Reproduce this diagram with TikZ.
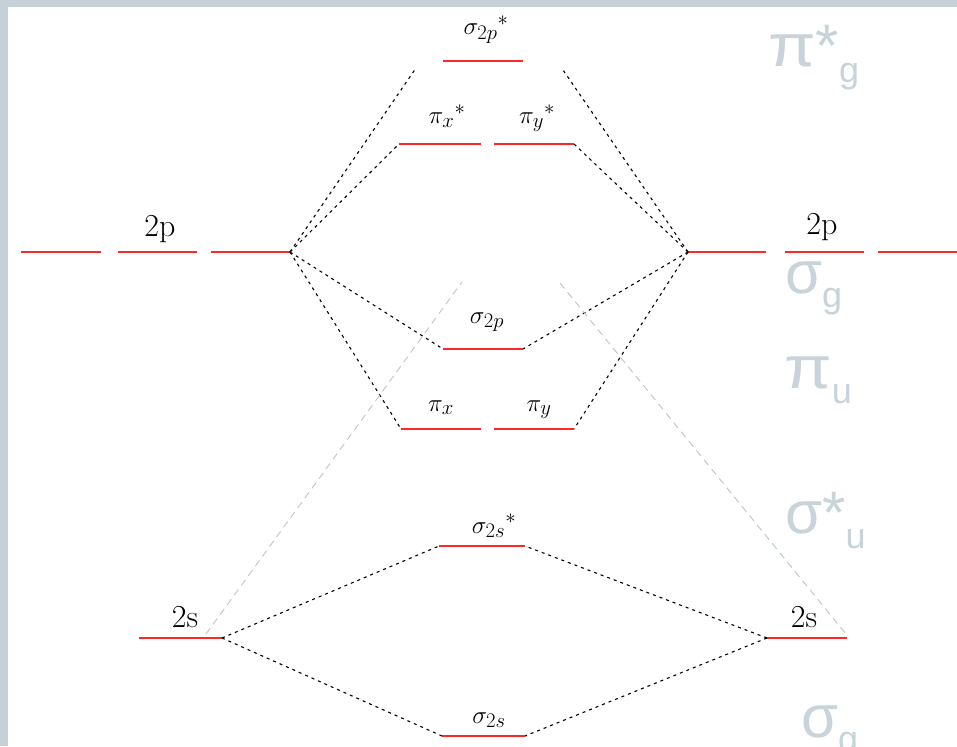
\documentclass[tikz,border=0pt]{standalone}
\usepackage{amsmath,amssymb}
\usepackage{fontspec}
\usepackage{tikz}
\usetikzlibrary{positioning}
\newfontfamily\greyfont{Liberation Sans}
\definecolor{framegray}{RGB}{197,208,215}
\definecolor{labgray}{RGB}{200,211,218}
\definecolor{guidegray}{RGB}{184,198,207}
\definecolor{levelred}{RGB}{255,40,40}
\newcommand{\widepi}{\scalebox{1.15}[1]{π}}

\begin{document}
\begin{tikzpicture}[x=1pt,y=-1pt,
  level/.style={levelred,line width=2pt},
  conn/.style={black,line width=1.1pt,dash pattern=on 3pt off 4pt},
  guide/.style={guidegray,line width=0.9pt,dash pattern=on 7pt off 5pt},
  lab/.style={anchor=base,inner sep=0pt,font=\fontsize{32}{36}\selectfont},
  term/.style={anchor=base west,inner sep=0pt,labgray,font=\greyfont\fontsize{60}{64}\selectfont}]
  % frame
  \fill[framegray] (0,0) rectangle (957,746);
  \fill[white] (8,7) rectangle (957,746);
  \useasboundingbox (0,0) rectangle (957,746);
  % atomic levels
  \foreach \a/\b in {21/101,118/197,211/290,688/766,785/864,878/957}
    \draw[level] (\a,252) -- (\b,252);
  \coordinate (p2L) at (290,252);
  \coordinate (p2R) at (688,252);
  \coordinate (s2L) at (222,638);
  \coordinate (s2R) at (767,638);
  \draw[level] (139,638) -- (s2L);
  \draw[level] (s2R) -- (847,638);
  % molecular levels
  \coordinate (sgpsA) at (443,61);  \coordinate (sgpsB) at (523,61);
  \coordinate (pxsA) at (399,144);  \coordinate (pxsB) at (481,144);
  \coordinate (pysA) at (494,144);  \coordinate (pysB) at (574,144);
  \coordinate (sgpA) at (443,349);  \coordinate (sgpB) at (523,349);
  \coordinate (pxA) at (401,429);   \coordinate (pxB) at (481,429);
  \coordinate (pyA) at (494,429);   \coordinate (pyB) at (574,429);
  \coordinate (sgssA) at (439,546); \coordinate (sgssB) at (525,546);
  \coordinate (sgsA) at (442,736);  \coordinate (sgsB) at (525,736);
  \foreach \n in {sgps,pxs,pys,sgp,px,py,sgss,sgs}
    \draw[level] (\n A) -- (\n B);
  % labels
  \node[lab] (lab2pL) at (160,236) {2p};
  \node[lab] (lab2pR) at (822,234) {2p};
  \node[lab] (lab2sL) at (185,627) {2s};
  \node[lab] (lab2sR) at (804,627) {2s};
  \node[lab] (labsgps) at (486,35) {$\sigma_{2p}{}^{*}$};
  \node[lab] (labpxs) at (447,124) {$\pi_x{}^{*}$};
  \node[lab] (labpys) at (537,124) {$\pi_y{}^{*}$};
  \node[lab] (labsgp) at (487,323) {$\sigma_{2p}$};
  \node[lab] (labpx) at (441,411) {$\pi_x$};
  \node[lab] (labpy) at (539,411) {$\pi_y$};
  \node[lab] (labsgss) at (494,533) {$\sigma_{2s}{}^{*}$};
  \node[lab] (labsgs) at (489,723) {$\sigma_{2s}$};
  % correlation lines
  \coordinate (topL) at (416,68);
  \coordinate (topR) at (563,70);
  \draw[conn] (p2L) -- (topL);
  \draw[conn] (p2L) -- (pxsA);
  \draw[conn] (p2L) -- (sgpA);
  \draw[conn] (p2L) -- (pxA);
  \draw[conn] (p2R) -- (topR);
  \draw[conn] (p2R) -- (pysB);
  \draw[conn] (p2R) -- (sgpB);
  \draw[conn] (p2R) -- (pyB);
  \draw[conn] (s2L) -- (sgssA);
  \draw[conn] (s2L) -- (sgsA);
  \draw[conn] (s2R) -- (sgssB);
  \draw[conn] (s2R) -- (sgsB);
  % grey guides
  \coordinate (gL1) at (206,634); \coordinate (gL2) at (462,282);
  \coordinate (gR1) at (560,283); \coordinate (gR2) at (846,634);
  \draw[guide] (gL1) -- (gL2);
  \draw[guide] (gR1) -- (gR2);
  % symmetry terms
  \node[term] (tpig) at (768,67) {\widepi*\raisebox{-16pt}{\fontsize{36}{36}\selectfont g}};
  \node[term] (tsgg) at (785,293) {σ\raisebox{-14pt}{\fontsize{36}{36}\selectfont g}};
  \node[term] (tpiu) at (784,388) {\widepi\raisebox{-15pt}{\fontsize{36}{36}\selectfont u}};
  \node[term] (tsgu) at (785,533) {σ*\raisebox{-15pt}{\fontsize{36}{36}\selectfont u}};
  \node[term] (tsgb) at (801,737) {σ\raisebox{-14pt}{\fontsize{36}{36}\selectfont g}};
\end{tikzpicture}
\end{document}
